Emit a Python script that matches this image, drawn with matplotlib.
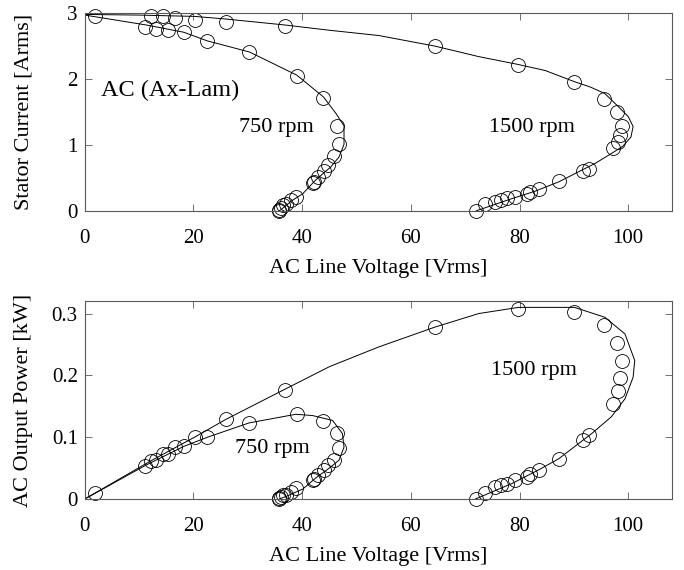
import matplotlib
matplotlib.use("Agg")
import matplotlib.pyplot as plt

plt.rcParams['font.family'] = ['Liberation Serif', 'DejaVu Serif']
plt.rcParams['font.size'] = 16

# measured points: line voltage [Vrms], stator current [Arms], output power [kW]
v750 = [11.1, 13.1, 15.3, 18.2, 22.5, 30.3, 39.0, 43.9, 46.5, 46.8, 45.9, 44.8,
        44.0, 43.0, 42.2, 41.9, 38.8, 37.9, 37.0, 36.5, 36.1, 35.8, 35.7]
i750 = [2.79, 2.76, 2.74, 2.71, 2.58, 2.41, 2.05, 1.71, 1.29, 1.01, 0.83, 0.69,
        0.61, 0.52, 0.44, 0.42, 0.21, 0.16, 0.11, 0.09, 0.05, 0.02, 0.0]
p750 = [0.054, 0.063, 0.073, 0.085, 0.100, 0.123, 0.137, 0.126, 0.106, 0.082, 0.063, 0.055,
        0.047, 0.039, 0.032, 0.030, 0.017, 0.011, 0.007, 0.006, 0.003, 0.001, 0.0]

v1500 = [1.8, 12.1, 14.3, 16.6, 20.2, 26.0, 36.8, 64.4, 79.8, 90.1, 95.6, 97.9, 98.9, 98.5,
         98.2, 97.2, 92.7, 91.7, 87.2, 83.5, 82.0, 81.3, 79.2, 77.7, 76.6, 75.5, 73.7, 71.9]
i1500 = [2.96, 2.96, 2.96, 2.92, 2.90, 2.86, 2.80, 2.50, 2.22, 1.95, 1.69, 1.50, 1.29, 1.15,
         1.05, 0.95, 0.64, 0.61, 0.45, 0.33, 0.28, 0.25, 0.21, 0.19, 0.16, 0.14, 0.10, 0.0]
p1500 = [0.009, 0.062, 0.073, 0.084, 0.100, 0.129, 0.177, 0.278, 0.308, 0.302, 0.282, 0.252, 0.223, 0.196,
         0.174, 0.154, 0.103, 0.096, 0.065, 0.047, 0.040, 0.036, 0.031, 0.025, 0.022, 0.019, 0.010, 0.0]

# model curves
mv750 = [0, 11.3, 18.2, 22.5, 30.3, 39.0, 43.9, 46.2, 47.7, 47.7, 46.8, 45.3, 42.5, 40.1, 38.2, 35.8]
mi750 = [2.97, 2.82, 2.71, 2.58, 2.41, 2.06, 1.73, 1.48, 1.29, 1.01, 0.82, 0.67, 0.47, 0.26, 0.16, 0.0]
mv1500 = [0, 10, 20.2, 26, 36.8, 45, 54.1, 64.4, 72.5, 79.8, 84.7, 90.1, 93, 95.7, 98.2, 100,
          100.9, 100.5, 99, 96.9, 93.9, 87.2, 82.9, 78, 72]
mi1500 = [2.98, 2.97, 2.95, 2.91, 2.82, 2.74, 2.66, 2.50, 2.34, 2.22, 2.13, 1.96, 1.88, 1.78, 1.58, 1.43,
          1.28, 1.12, 0.98, 0.87, 0.72, 0.44, 0.30, 0.17, 0.0]

mpv750 = [0, 11.3, 18.2, 22.6, 30.2, 38.8, 41.9, 45.6, 47.4, 47.7, 46.8, 45.3, 42.5, 40.1, 37.0, 35.8]
mp750 = [0.0, 0.055, 0.085, 0.100, 0.123, 0.137, 0.135, 0.127, 0.106, 0.084, 0.063, 0.052,
         0.034, 0.016, 0.004, 0.0]
mpv1500 = [0, 12, 20.2, 26, 36.7, 45, 54.1, 64.4, 72.5, 79.8, 90.1, 95.7, 99.4, 101.2, 100.9,
           99.4, 96.9, 93.3, 87.2, 83.5, 78.6, 71.9]
mp1500 = [0.0, 0.061, 0.100, 0.129, 0.177, 0.214, 0.246, 0.278, 0.300, 0.310, 0.310, 0.294, 0.267,
          0.224, 0.197, 0.162, 0.133, 0.106, 0.065, 0.047, 0.025, 0.0]

fig = plt.figure(figsize=(6.84, 5.70), dpi=100)
ax1 = fig.add_axes([0.124, 0.630, 0.858, 0.347])
ax2 = fig.add_axes([0.124, 0.1246, 0.858, 0.347])

mk = dict(ls='none', marker='o', ms=10, mfc='none', mec='black', mew=0.6, clip_on=False)
ln = dict(color='black', lw=0.7)

ax1.plot(mv750, mi750, **ln)
ax1.plot(mv1500, mi1500, **ln)
ax1.plot(v750, i750, **mk)
ax1.plot(v1500, i1500, **mk)
ax1.set_ylim(0, 3)
ax1.set_yticks([0, 1, 2, 3])
ax1.set_ylabel('Stator Current [Arms]')
ax1.text(3, 1.83, 'AC (Ax-Lam)', fontsize=17.5, va='center')
ax1.text(28.4, 1.26, '750 rpm', va='center')
ax1.text(74.3, 1.26, '1500 rpm', va='center')

ax2.plot(mpv750, mp750, **ln)
ax2.plot(mpv1500, mp1500, **ln)
ax2.plot(v750, p750, **mk)
ax2.plot(v1500, p1500, **mk)
ax2.set_ylim(0, 0.32)
ax2.set_yticks([0, 0.1, 0.2, 0.3])
ax2.set_yticklabels(['0', '0.1', '0.2', '0.3'])
ax2.set_ylabel('AC Output Power [kW]')
ax2.text(27.7, 0.082, '750 rpm', va='center')
ax2.text(74.7, 0.208, '1500 rpm', va='center')

for ax in (ax1, ax2):
    ax.set_xlim(0, 108)
    ax.set_xticks([0, 20, 40, 60, 80, 100])
    ax.set_xlabel('AC Line Voltage [Vrms]')
    ax.tick_params(direction='in', top=True, right=True, length=5, width=0.6,
                   color='0.35', labelsize=15)
    ax.tick_params(axis='x', pad=13)
    ax.tick_params(axis='y', pad=5)
    for s in ax.spines.values():
        s.set_color('0.35')
        s.set_linewidth(0.8)
    ax.xaxis.set_label_coords(0.5, -0.245)
    ax.yaxis.set_label_coords(-0.088, 0.5)

plt.savefig('out.png', dpi=100)
